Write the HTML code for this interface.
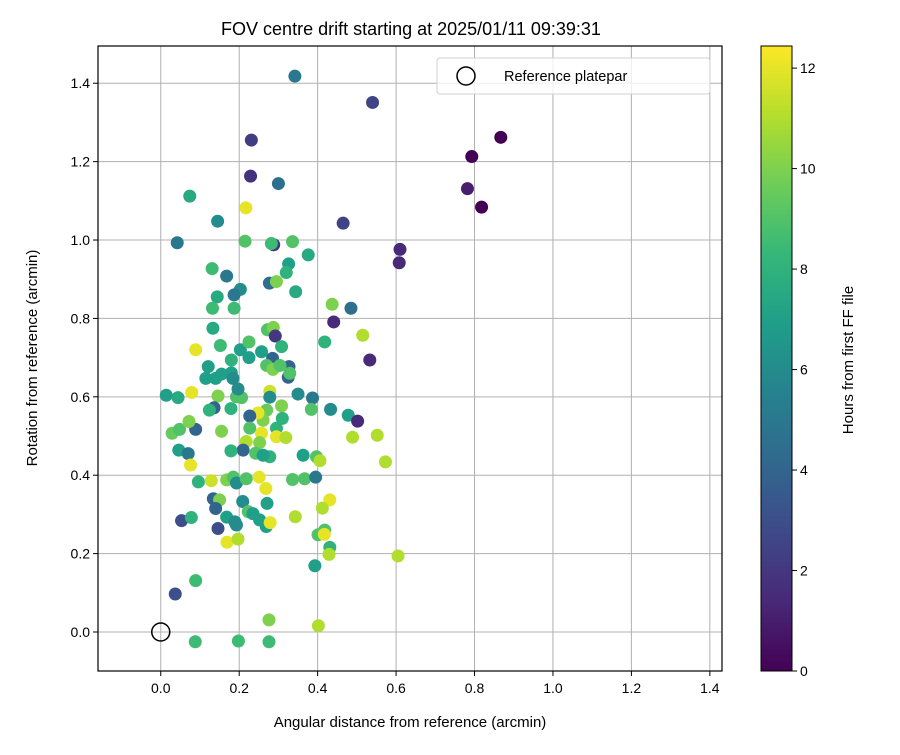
<!DOCTYPE html>
<html><head><meta charset="utf-8"><style>
body{margin:0;background:#fff;}
svg{font-family:"Liberation Sans","DejaVu Sans",sans-serif;}
</style></head><body>
<svg id="c" width="900" height="750" xmlns="http://www.w3.org/2000/svg"></svg>
<script>
const xs=[0.342,0.54,0.231,0.867,0.793,0.782,0.818,0.229,0.3,0.074,0.217,0.145,0.465,0.042,0.215,0.288,0.282,0.336,0.376,0.61,0.608,0.326,0.32,0.131,0.168,0.203,0.187,0.277,0.295,0.344,0.144,0.132,0.187,0.437,0.485,0.441,0.515,0.133,0.152,0.272,0.287,0.292,
0.089,0.203,0.225,0.257,0.308,0.418,0.533,0.285,0.327,0.325,0.329,0.27,0.286,0.304,0.121,0.115,0.14,0.155,0.18,0.184,0.18,0.225,
0.014,0.044,0.079,0.146,0.193,0.206,0.197,0.278,0.278,0.35,0.387,0.433,0.478,0.502,0.384,0.308,0.31,0.27,0.261,0.248,0.227,0.227,0.295,0.257,0.295,0.319,0.218,0.252,0.21,0.242,0.278,0.261,0.179,0.363,0.397,0.406,0.489,0.552,0.573,0.136,0.124,0.179,0.029,0.048,0.089,0.072,0.155,0.046,0.07,0.076,0.096,0.129,0.168,0.185,0.193,0.218,0.251,0.268,0.336,0.367,0.395,0.431,0.412,0.343,0.134,0.15,0.14,0.209,0.223,0.235,0.271,0.252,0.269,0.279,0.168,0.189,0.193,0.053,0.078,0.146,0.169,0.197,0.418,0.401,0.417,0.431,0.429,0.605,0.393,0.089,0.037,0.276,0.402,0.088,0.198,0.276];
const ys=[1.418,1.351,1.255,1.262,1.213,1.131,1.084,1.163,1.144,1.112,1.082,1.048,1.043,0.993,0.997,0.988,0.991,0.996,0.962,0.976,0.942,0.939,0.917,0.927,0.908,0.874,0.86,0.89,0.894,0.868,0.855,0.826,0.826,0.836,0.826,0.791,0.757,0.775,0.731,0.771,0.777,0.755,
0.72,0.72,0.74,0.715,0.728,0.74,0.694,0.698,0.677,0.65,0.66,0.68,0.67,0.68,0.677,0.647,0.647,0.658,0.661,0.647,0.694,0.70,
0.604,0.598,0.611,0.602,0.600,0.598,0.62,0.614,0.599,0.607,0.597,0.568,0.553,0.538,0.568,0.577,0.545,0.566,0.54,0.559,0.551,0.52,0.52,0.507,0.498,0.496,0.486,0.483,0.464,0.456,0.447,0.451,0.462,0.451,0.447,0.437,0.497,0.502,0.434,0.572,0.566,0.57,0.507,0.517,0.517,0.537,0.512,0.464,0.455,0.426,0.383,0.386,0.388,0.395,0.38,0.391,0.395,0.366,0.389,0.391,0.395,0.337,0.316,0.294,0.34,0.337,0.315,0.333,0.307,0.302,0.328,0.286,0.269,0.279,0.293,0.281,0.273,0.284,0.292,0.264,0.229,0.237,0.26,0.248,0.249,0.216,0.198,0.194,0.169,0.131,0.097,0.031,0.016,-0.025,-0.023,-0.025];
const hours=[5,2.5,2.2,0,0,1,0,1.8,4.5,7.5,12,6,2.5,5,9,2,8.5,9,7.5,1.5,1.5,7,8,8.5,5,6,5,4.5,10,7.5,7.5,8.5,8.5,10,4.5,1.5,11,7.5,8.5,9,10,2,
12,7,9,7,8,8,1.5,4,4,4,9,9,10,9,7,7,7,7,7,6,8,7,
7,7.5,12,10,9,9,6,11.5,6,6,5,6,7,1.5,9,10,8,9.5,10,12,4,9,8,12,12,11,11,10,4,9,8,7,8,7,9,11,11,11,11,4,8,8,9.5,9,4,10,10,7,5,12,8,11.5,10,9,6,9,12,12,9,9,5,12,11,11,4,10,4,6,9,7,7,7,7,12,7,6,6,3,8,3,12,11,9,9,12,8,11,11,7,8.5,3,10,11,8.5,8.5,8.5];
const xTicks=[0,0.2,0.4,0.6,0.8,1.0,1.2,1.4];
const yTicks=[0,0.2,0.4,0.6,0.8,1.0,1.2,1.4];
const cTicks=[0,2,4,6,8,10,12];
const X0=98,X1=722,Y0=46,Y1=671,xmin=-0.16,xmax=1.431,ymin=-0.0995,ymax=1.495,hmax=12.44;
const sx=v=>X0+(v-xmin)/(xmax-xmin)*(X1-X0);
const sy=v=>Y1-(v-ymin)/(ymax-ymin)*(Y1-Y0);
const cy=v=>671-v/hmax*625;
const vir=[[68,1,84],[72,40,120],[62,74,137],[49,104,142],[38,130,142],[31,158,137],[53,183,121],[109,205,89],[180,222,44],[253,231,37]];
function col(h){let t=Math.max(0,Math.min(1,h/hmax))*(vir.length-1);let i=Math.min(vir.length-2,Math.floor(t)),f=t-i;const a=vir[i],b=vir[i+1];return `rgb(${a.map((v,k)=>Math.round(v+(b[k]-v)*f)).join(',')})`;}
const svg=document.getElementById('c');const NS='http://www.w3.org/2000/svg';
function el(t,a,p){const e=document.createElementNS(NS,t);for(const k in a)e.setAttribute(k,a[k]);(p||svg).appendChild(e);return e;}
function txt(s,a,name){const e=el('text',a);e.textContent=s;return e;}
const grid=el('g',{});
xTicks.forEach(v=>{el('line',{x1:sx(v),x2:sx(v),y1:Y0,y2:Y1,stroke:'#b0b0b0','stroke-width':1},grid);el('line',{x1:sx(v),x2:sx(v),y1:Y1,y2:Y1+5,stroke:'#000'});txt(v.toFixed(1),{x:sx(v),y:Y1+22,'font-size':14,'text-anchor':'middle'},'x-tick-label');});
yTicks.forEach(v=>{el('line',{x1:X0,x2:X1,y1:sy(v),y2:sy(v),stroke:'#b0b0b0','stroke-width':1},grid);el('line',{x1:X0-5,x2:X0,y1:sy(v),y2:sy(v),stroke:'#000'});txt(v.toFixed(1),{x:X0-8,y:sy(v)+5,'font-size':14,'text-anchor':'end'},'y-tick-label');});
const pts=el('g',{});
xs.forEach((x,i)=>{const c=el('circle',{cx:sx(x),cy:sy(ys[i]),r:6.5,fill:col(hours[i])},pts);});
const ref=el('circle',{cx:sx(0),cy:sy(0),r:9,fill:'none',stroke:'#000','stroke-width':1.5});
const fr=el('rect',{x:X0,y:Y0,width:X1-X0,height:Y1-Y0,fill:'none',stroke:'#000','stroke-width':1.2});
const lg=el('g',{});
el('rect',{x:437,y:58,width:273,height:36,rx:3,fill:'#fff','fill-opacity':0.8,stroke:'#d0d0d0'},lg);
el('circle',{cx:466,cy:76,r:9,fill:'none',stroke:'#000','stroke-width':1.5},lg);
txt('Reference platepar',{x:504,y:81,'font-size':14.5},'legend-label');
txt('FOV centre drift starting at 2025/01/11 09:39:31',{x:411,y:35,'font-size':18,'text-anchor':'middle'},'chart-title');
txt('Angular distance from reference (arcmin)',{x:410,y:727,'font-size':15,'text-anchor':'middle'},'x-axis-title');
txt('Rotation from reference (arcmin)',{x:37,y:358,'font-size':15,'text-anchor':'middle',transform:'rotate(-90 37 358)'},'y-axis-title');
const defs=el('defs',{});const lgd=el('linearGradient',{id:'vg',x1:0,y1:1,x2:0,y2:0},defs);
vir.forEach((c,i)=>el('stop',{offset:i/(vir.length-1),'stop-color':`rgb(${c.join(',')})`},lgd));
const cb=el('rect',{x:761,y:46,width:31,height:625,fill:'url(#vg)',stroke:'#000','stroke-width':1});
cTicks.forEach(v=>{el('line',{x1:792,x2:797,y1:cy(v),y2:cy(v),stroke:'#000'});txt(String(v),{x:800,y:cy(v)+5,'font-size':14},'colorbar-tick-label');});
txt('Hours from first FF file',{x:853,y:360,'font-size':15,'text-anchor':'middle',transform:'rotate(-90 853 360)'},'colorbar-title');
</script>
</body></html>
